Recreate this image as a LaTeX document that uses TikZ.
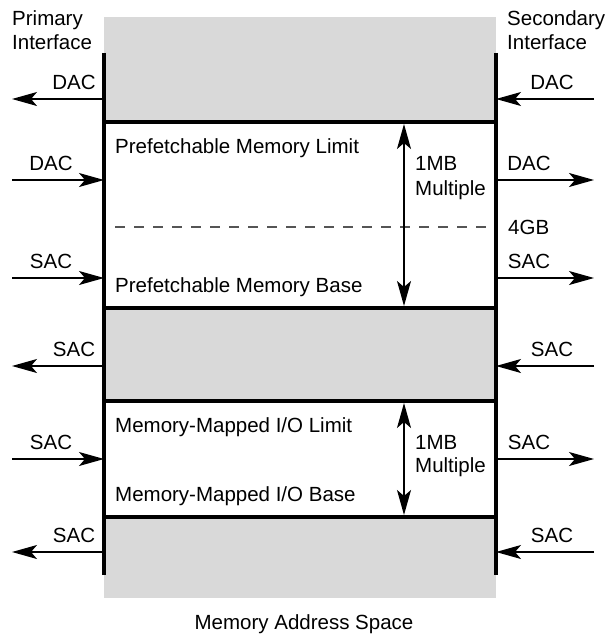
\documentclass[tikz,border=0pt]{standalone}
\usepackage{fontspec}
\setmainfont{Liberation Sans}
\usetikzlibrary{arrows.meta}
\definecolor{regiongray}{HTML}{D9D9D9}
\definecolor{dashgray}{HTML}{555555}
\tikzset{
  txt/.style={inner sep=0pt, font=\fontsize{20.5}{24}\selectfont, anchor=base west},
  txtc/.style={inner sep=0pt, font=\fontsize{20.5}{24}\selectfont, anchor=base},
  thickline/.style={line width=3.4pt},
  arr/.style={line width=1.3pt, -{Stealth[length=25pt,width=14pt,inset=6pt]}},
  darr/.style={line width=1.3pt, {Stealth[length=25pt,width=14pt,inset=6pt]}-{Stealth[length=25pt,width=14pt,inset=6pt]}},
}
\begin{document}
\begin{tikzpicture}[x=1pt,y=-1pt]
\useasboundingbox (0,0) rectangle (607,634);
% regions
\fill[regiongray] (104,17) rectangle (496,598);
\fill[white] (104,122) rectangle (496,308);
\fill[white] (104,401) rectangle (496,517);
% dashed 4GB line
\draw[dashgray, line width=1.3pt, dash pattern=on 10pt off 9pt] (115,227) -- (496,227);
% thick boundaries
\draw[thickline] (104,122) -- (496,122);
\draw[thickline] (104,308) -- (496,308);
\draw[thickline] (104,401) -- (496,401);
\draw[thickline] (104,517) -- (496,517);
\draw[thickline] (104,53) -- (104,575);
\draw[thickline] (496,53) -- (496,575);
% size arrows
\coordinate (p1t) at (404,124);
\coordinate (p1b) at (404,306);
\coordinate (p2t) at (404,403);
\coordinate (p2b) at (404,515);
\draw[darr] (p1t) -- (p1b);
\draw[darr] (p2t) -- (p2b);
% region labels
\node[txt] (pml) at (115,153) {Prefetchable Memory Limit};
\node[txt] (pmb) at (115,292) {Prefetchable Memory Base};
\node[txt] (mml) at (115,432) {Memory-Mapped I/O Limit};
\node[txt] (mmb) at (115,501) {Memory-Mapped I/O Base};
\node[txt] (mb1a) at (415,170) {1MB};
\node[txt] (mb1b) at (415,195) {Multiple};
\node[txt] (mb2a) at (415,449) {1MB};
\node[txt] (mb2b) at (415,472) {Multiple};
\node[txt] (fourgb) at (508,234) {4GB};
% interface titles
\node[txt] (pri1) at (12,26) {Primary};
\node[txt] (pri2) at (12,49) {Interface};
\node[txt] (sec1) at (507,26) {Secondary};
\node[txt] (sec2) at (507,49) {Interface};
\node[txtc] (mas) at (304,629) {Memory Address Space};
% side arrows
\foreach \i/\y in {1/99,2/180,3/278,4/366,5/459,6/552}{
  \coordinate (L\i) at (104,\y);
  \coordinate (Lo\i) at (12,\y);
  \coordinate (R\i) at (496,\y);
  \coordinate (Ro\i) at (594,\y);
}
\draw[arr] (L1) -- (Lo1);
\draw[arr] (Lo2) -- (L2);
\draw[arr] (Lo3) -- (L3);
\draw[arr] (L4) -- (Lo4);
\draw[arr] (Lo5) -- (L5);
\draw[arr] (L6) -- (Lo6);
\draw[arr] (Ro1) -- (R1);
\draw[arr] (R2) -- (Ro2);
\draw[arr] (R3) -- (Ro3);
\draw[arr] (Ro4) -- (R4);
\draw[arr] (R5) -- (Ro5);
\draw[arr] (Ro6) -- (R6);
% arrow labels left
\node[txtc] (la1) at (74,89) {DAC};
\node[txtc] (la2) at (51,170) {DAC};
\node[txtc] (la3) at (51,268) {SAC};
\node[txtc] (la4) at (74,356) {SAC};
\node[txtc] (la5) at (51,449) {SAC};
\node[txtc] (la6) at (74,542) {SAC};
% arrow labels right
\node[txtc] (ra1) at (552,89) {DAC};
\node[txtc] (ra2) at (529,170) {DAC};
\node[txtc] (ra3) at (529,268) {SAC};
\node[txtc] (ra4) at (552,356) {SAC};
\node[txtc] (ra5) at (529,449) {SAC};
\node[txtc] (ra6) at (552,542) {SAC};
\end{tikzpicture}
\end{document}
